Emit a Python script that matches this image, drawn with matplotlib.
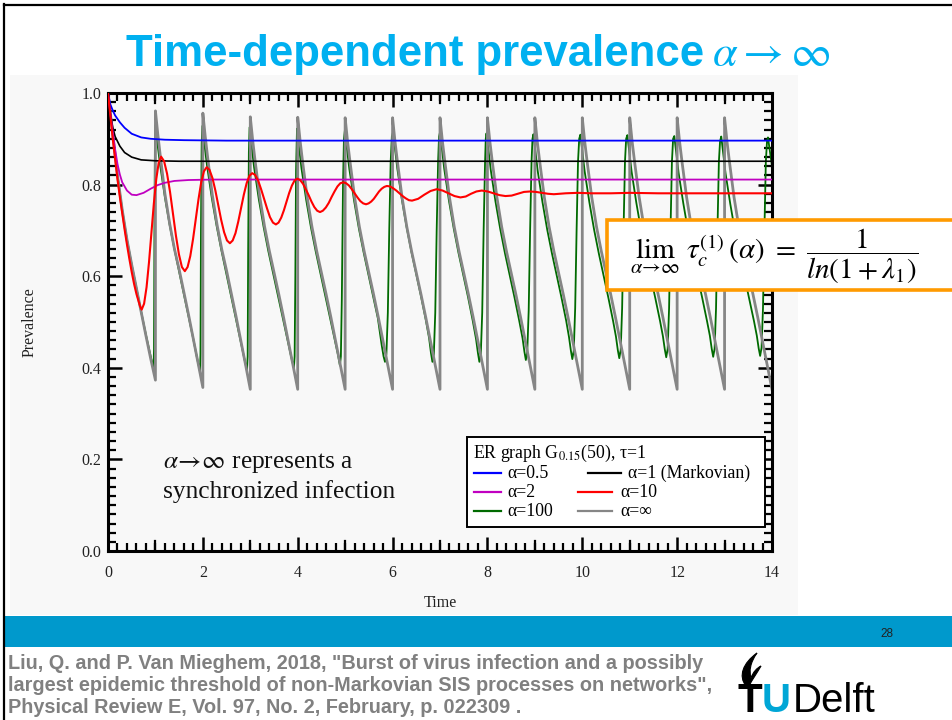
import matplotlib
matplotlib.use("Agg")
import matplotlib.pyplot as plt
from matplotlib.patches import Rectangle, PathPatch
from matplotlib.lines import Line2D
from matplotlib.path import Path
from matplotlib.ticker import MultipleLocator, FuncFormatter

plt.rcParams['mathtext.fontset'] = 'stix'

# ---------------------------------------------------------------- data
t_blue = [0, 0.05, 0.1, 0.15, 0.25, 0.35, 0.5, 0.7, 0.9, 1.2, 1.6, 2.5, 14]
y_blue = [1.0, 0.975, 0.962, 0.951, 0.936, 0.924, 0.911, 0.903, 0.900, 0.898, 0.897, 0.896, 0.896]

t_black = [0, 0.05, 0.1, 0.15, 0.25, 0.35, 0.5, 0.7, 1.0, 1.5, 14]
y_black = [1.0, 0.955, 0.925, 0.905, 0.884, 0.870, 0.860, 0.854, 0.852, 0.851, 0.851]

t_magenta = [0, 0.05, 0.1, 0.15, 0.2, 0.25, 0.3, 0.4, 0.5, 0.6, 0.75, 0.9, 1.05, 1.2, 1.4, 1.7, 2.2, 14]
y_magenta = [1.0, 0.955, 0.915, 0.877, 0.845, 0.822, 0.805, 0.787, 0.778, 0.777, 0.782, 0.791, 0.799,
             0.804, 0.808, 0.810, 0.811, 0.811]

t_red = [0, 0.05, 0.1, 0.15, 0.2, 0.25, 0.3, 0.35, 0.4, 0.45, 0.5, 0.55, 0.6, 0.65, 0.68, 0.71,
         0.761, 0.813, 0.864, 0.915, 0.966, 1.018, 1.069, 1.12,
         1.183, 1.245, 1.308, 1.37, 1.433, 1.495, 1.558, 1.62,
         1.678, 1.735, 1.793, 1.85, 1.908, 1.965, 2.023, 2.08,
         2.141, 2.203, 2.264, 2.325, 2.386, 2.448, 2.509, 2.57,
         2.629, 2.688, 2.746, 2.805, 2.864, 2.923, 2.981, 3.04,
         3.103, 3.165, 3.228, 3.29, 3.353, 3.415, 3.478, 3.54,
         3.596, 3.653, 3.709, 3.765, 3.821, 3.878, 3.934, 3.99,
         4.05, 4.11, 4.17, 4.23, 4.29, 4.35, 4.41, 4.47,
         4.53, 4.593, 4.654, 4.715, 4.776, 4.838, 4.899, 4.96,
         5.02, 5.08, 5.14, 5.2, 5.26, 5.32, 5.38, 5.44,
         5.495, 5.55, 5.605, 5.66, 5.715, 5.77, 5.825, 5.88,
         5.946, 6.013, 6.079, 6.145, 6.211, 6.278, 6.344, 6.41,
         6.54, 6.67, 6.8, 6.93, 7.055, 7.18, 7.305, 7.43,
         7.543, 7.655, 7.768, 7.88, 8.005, 8.13, 8.255, 8.38,
         8.51, 8.64, 8.77, 8.9, 9.025, 9.15, 9.275, 9.4,
         9.65, 9.9, 10.2, 10.6, 11.0, 11.6, 12.3, 13.0, 14.0]
y_red = [1.0, 0.95, 0.90, 0.855, 0.812, 0.773, 0.737, 0.702, 0.669, 0.638, 0.609, 0.583, 0.561, 0.543, 0.533, 0.527,
         0.540, 0.576, 0.630, 0.694, 0.758, 0.812, 0.848, 0.861,
         0.851, 0.824, 0.784, 0.736, 0.688, 0.648, 0.620, 0.611,
         0.620, 0.644, 0.681, 0.725, 0.768, 0.805, 0.829, 0.838,
         0.832, 0.814, 0.787, 0.755, 0.723, 0.696, 0.678, 0.672,
         0.678, 0.694, 0.719, 0.749, 0.778, 0.803, 0.819, 0.825,
         0.821, 0.809, 0.790, 0.769, 0.748, 0.729, 0.717, 0.713,
         0.717, 0.728, 0.744, 0.763, 0.782, 0.798, 0.809, 0.813,
         0.810, 0.802, 0.790, 0.777, 0.763, 0.751, 0.743, 0.740,
         0.743, 0.750, 0.760, 0.773, 0.785, 0.796, 0.803, 0.805,
         0.803, 0.798, 0.790, 0.781, 0.772, 0.764, 0.759, 0.757,
         0.759, 0.763, 0.769, 0.777, 0.785, 0.791, 0.795, 0.797,
         0.796, 0.792, 0.787, 0.781, 0.775, 0.770, 0.766, 0.765,
         0.769, 0.778, 0.786, 0.790, 0.787, 0.781, 0.775, 0.772,
         0.774, 0.780, 0.785, 0.787, 0.785, 0.781, 0.777, 0.775,
         0.776, 0.780, 0.784, 0.785, 0.784, 0.782, 0.780, 0.779,
         0.781, 0.782, 0.781, 0.781, 0.782, 0.781, 0.781, 0.781, 0.781]

t_green = [
    0.00, 0.10, 0.20, 0.30, 0.40, 0.50, 0.60, 0.70, 0.80, 0.90, 0.96, 0.97, 0.98, 0.99,
    1.00, 1.03, 1.10, 1.20, 1.30, 1.40, 1.50, 1.60, 1.70, 1.80, 1.88, 1.94, 1.95, 1.96, 1.975,
    1.99, 2.02, 2.09, 2.19, 2.29, 2.39, 2.49, 2.59, 2.69, 2.79, 2.87, 2.93, 2.945, 2.955, 2.97,
    2.985, 3.015, 3.08, 3.18, 3.28, 3.38, 3.48, 3.58, 3.68, 3.78, 3.86, 3.92, 3.935, 3.95, 3.965,
    3.985, 4.015, 4.08, 4.18, 4.28, 4.38, 4.48, 4.58, 4.68, 4.78, 4.85, 4.89, 4.91, 4.93, 4.955, 4.975,
    4.995, 5.025, 5.09, 5.19, 5.29, 5.39, 5.49, 5.59, 5.69, 5.77, 5.81, 5.84, 5.87, 5.90, 5.93, 5.96, 5.985,
    6.01, 6.04, 6.10, 6.20, 6.30, 6.40, 6.50, 6.60, 6.70, 6.77, 6.81, 6.84, 6.87, 6.90, 6.93, 6.96, 6.98,
    7.00, 7.03, 7.09, 7.19, 7.29, 7.39, 7.49, 7.59, 7.69, 7.76, 7.80, 7.83, 7.86, 7.89, 7.92, 7.95, 7.965,
    7.98, 8.01, 8.07, 8.17, 8.27, 8.37, 8.47, 8.57, 8.67, 8.74, 8.78, 8.81, 8.84, 8.87, 8.90, 8.93, 8.95,
    8.97, 9.00, 9.06, 9.16, 9.26, 9.36, 9.46, 9.56, 9.66, 9.72, 9.76, 9.79, 9.82, 9.85, 9.88, 9.91, 9.935,
    9.96, 9.99, 10.05, 10.15, 10.25, 10.35, 10.45, 10.55, 10.65, 10.71, 10.75, 10.78, 10.81, 10.84, 10.87, 10.90, 10.925,
    10.95, 10.98, 11.04, 11.14, 11.24, 11.34, 11.44, 11.54, 11.64, 11.70, 11.74, 11.77, 11.80, 11.83, 11.86, 11.89, 11.915,
    11.94, 11.97, 12.03, 12.13, 12.23, 12.33, 12.43, 12.53, 12.63, 12.69, 12.73, 12.76, 12.79, 12.82, 12.85, 12.88, 12.905,
    12.93, 12.96, 13.02, 13.12, 13.22, 13.32, 13.42, 13.52, 13.62, 13.68, 13.72, 13.75, 13.78, 13.81, 13.84, 13.87, 13.895,
    13.915, 13.95, 14.0]
y_green = [
    1.000, 0.910, 0.820, 0.745, 0.680, 0.625, 0.573, 0.522, 0.472, 0.425, 0.397, 0.440, 0.720, 0.900,
    0.930, 0.900, 0.842, 0.772, 0.712, 0.659, 0.610, 0.561, 0.512, 0.462, 0.420, 0.392, 0.430, 0.700, 0.890,
    0.928, 0.898, 0.840, 0.770, 0.710, 0.657, 0.608, 0.559, 0.510, 0.461, 0.422, 0.394, 0.425, 0.650, 0.870,
    0.925, 0.895, 0.838, 0.768, 0.708, 0.655, 0.607, 0.558, 0.510, 0.462, 0.425, 0.400, 0.425, 0.600, 0.830,
    0.922, 0.892, 0.835, 0.766, 0.706, 0.654, 0.606, 0.558, 0.510, 0.463, 0.428, 0.405, 0.425, 0.550, 0.800, 0.900,
    0.919, 0.889, 0.833, 0.764, 0.704, 0.652, 0.604, 0.556, 0.508, 0.450, 0.425, 0.413, 0.430, 0.520, 0.700, 0.850, 0.905,
    0.915, 0.888, 0.835, 0.765, 0.705, 0.652, 0.604, 0.556, 0.505, 0.465, 0.432, 0.413, 0.430, 0.520, 0.700, 0.850, 0.905,
    0.914, 0.887, 0.834, 0.764, 0.704, 0.651, 0.603, 0.555, 0.503, 0.463, 0.432, 0.413, 0.430, 0.520, 0.700, 0.850, 0.900,
    0.912, 0.885, 0.832, 0.763, 0.703, 0.650, 0.602, 0.554, 0.503, 0.465, 0.435, 0.417, 0.435, 0.525, 0.700, 0.850, 0.900,
    0.910, 0.883, 0.830, 0.762, 0.702, 0.650, 0.602, 0.554, 0.503, 0.467, 0.437, 0.419, 0.437, 0.530, 0.700, 0.850, 0.900,
    0.909, 0.882, 0.829, 0.761, 0.701, 0.649, 0.601, 0.553, 0.502, 0.468, 0.438, 0.421, 0.439, 0.530, 0.700, 0.850, 0.900,
    0.908, 0.881, 0.828, 0.760, 0.700, 0.648, 0.600, 0.552, 0.502, 0.469, 0.440, 0.423, 0.441, 0.530, 0.700, 0.850, 0.900,
    0.906, 0.879, 0.826, 0.759, 0.699, 0.648, 0.600, 0.552, 0.502, 0.470, 0.441, 0.424, 0.442, 0.530, 0.700, 0.850, 0.895,
    0.905, 0.878, 0.825, 0.758, 0.698, 0.647, 0.599, 0.551, 0.502, 0.470, 0.442, 0.426, 0.444, 0.530, 0.700, 0.850, 0.895,
    0.903, 0.877, 0.840]

# alpha -> infinity: synchronized saw-tooth, one row per unit period
gray_offsets = [0.0, 0.05, 0.1, 0.2, 0.3, 0.4, 0.5, 0.6, 0.7, 0.8, 0.9, 1.0]
gray_cycles = [
    [1.000, 0.955, 0.910, 0.820, 0.745, 0.680, 0.625, 0.573, 0.522, 0.470, 0.420, 0.373],
    [0.961, 0.910, 0.865, 0.780, 0.715, 0.660, 0.615, 0.565, 0.515, 0.463, 0.410, 0.357],
    [0.956, 0.905, 0.860, 0.777, 0.712, 0.658, 0.612, 0.562, 0.512, 0.460, 0.407, 0.353],
    [0.948, 0.897, 0.853, 0.773, 0.709, 0.656, 0.609, 0.561, 0.511, 0.459, 0.406, 0.353],
    [0.947, 0.896, 0.852, 0.772, 0.708, 0.655, 0.608, 0.560, 0.510, 0.458, 0.406, 0.353],
    [0.946, 0.895, 0.852, 0.772, 0.708, 0.655, 0.608, 0.560, 0.510, 0.458, 0.406, 0.353],
    [0.946, 0.895, 0.852, 0.772, 0.708, 0.655, 0.608, 0.560, 0.510, 0.458, 0.406, 0.353],
    [0.946, 0.895, 0.852, 0.772, 0.708, 0.655, 0.608, 0.560, 0.510, 0.458, 0.406, 0.353],
    [0.946, 0.895, 0.852, 0.772, 0.708, 0.655, 0.608, 0.560, 0.510, 0.458, 0.406, 0.353],
    [0.946, 0.895, 0.852, 0.772, 0.708, 0.655, 0.608, 0.560, 0.510, 0.458, 0.406, 0.353],
    [0.946, 0.895, 0.852, 0.772, 0.708, 0.655, 0.608, 0.560, 0.510, 0.458, 0.406, 0.353],
    [0.946, 0.895, 0.852, 0.772, 0.708, 0.655, 0.608, 0.560, 0.510, 0.458, 0.406, 0.353],
    [0.946, 0.895, 0.852, 0.772, 0.708, 0.655, 0.608, 0.560, 0.510, 0.458, 0.406, 0.353],
    [0.946, 0.895, 0.852, 0.772, 0.708, 0.655, 0.608, 0.560, 0.510, 0.458, 0.406, 0.353],
]

series_labels = ['α=0.5', 'α=1 (Markovian)', 'α=2', 'α=10', 'α=100', 'α=∞']
series_colors = ['#0000ff', '#000000', '#c000c0', '#ff0000', '#006a00', '#868686']

x_ticks = [0, 2, 4, 6, 8, 10, 12, 14]
y_ticks = [0.0, 0.2, 0.4, 0.6, 0.8, 1.0]

title_text = 'Time-dependent prevalence'
citation_lines = [
    'Liu, Q. and P. Van Mieghem, 2018, "Burst of virus infection and a possibly',
    'largest epidemic threshold of non-Markovian SIS processes on networks",',
    'Physical Review E, Vol. 97, No. 2, February, p. 022309 .',
]

# ---------------------------------------------------------------- layout helpers
W, H = 952, 720


def fx(x):
    return x / W


def fy(y):
    return 1 - y / H


SERIF = ['Liberation Serif', 'DejaVu Serif']
SANS = ['Liberation Sans', 'DejaVu Sans']

fig = plt.figure(figsize=(W / 100, H / 100), dpi=100)
fig.patch.set_facecolor('white')

# slide frame and panel
fig.add_artist(Line2D([fx(4), fx(4)], [fy(4), fy(720)], transform=fig.transFigure,
                      color='black', lw=1.6, zorder=-4))
fig.add_artist(Line2D([fx(4), fx(952)], [fy(5), fy(5)], transform=fig.transFigure,
                      color='black', lw=1.6, zorder=-4))
fig.add_artist(Rectangle((fx(10), fy(615)), fx(798) - fx(10), fy(75) - fy(615),
                         transform=fig.transFigure, facecolor='#f8f8f8',
                         edgecolor='none', zorder=-5))
fig.add_artist(Rectangle((fx(5), fy(647)), fx(952) - fx(5), fy(616) - fy(647),
                         transform=fig.transFigure, facecolor='#0099cc',
                         edgecolor='none', zorder=-5))

# ---------------------------------------------------------------- axes
ax = fig.add_axes([fx(108), fy(551), fx(772) - fx(108), fy(93) - fy(551)])
ax.set_facecolor('none')

ax.plot(t_blue, y_blue, color=series_colors[0], lw=1.3, zorder=3)
ax.plot(t_black, y_black, color=series_colors[1], lw=1.2, zorder=3)
ax.plot(t_magenta, y_magenta, color=series_colors[2], lw=1.3, zorder=3)
ax.plot(t_green, y_green, color=series_colors[4], lw=1.3, zorder=2)

gray_t, gray_y = [], []
for k, row in enumerate(gray_cycles):
    for off, val in zip(gray_offsets, row):
        gray_t.append(k + off)
        gray_y.append(val)
ax.plot(gray_t, gray_y, color=series_colors[5], lw=2.0, zorder=2.5)
ax.plot(t_red, y_red, color=series_colors[3], lw=1.5, zorder=4)

ax.set_xlim(0, 14)
ax.set_ylim(0, 1.0)
ax.set_xticks(x_ticks)
ax.set_yticks(y_ticks)
ax.xaxis.set_minor_locator(MultipleLocator(0.2))
ax.yaxis.set_minor_locator(MultipleLocator(0.02))
ax.xaxis.set_major_formatter(FuncFormatter(lambda v, p: '%d' % v))
ax.yaxis.set_major_formatter(FuncFormatter(lambda v, p: '%.1f' % v))

# unlabelled integer ticks between the labelled ones
for v in range(1, 14, 2):
    ax.axvline(v, ymin=0, ymax=10 / 458, color='black', lw=1.6, zorder=5)
    ax.axvline(v, ymin=1 - 10 / 458, ymax=1, color='black', lw=1.6, zorder=5)

for s in ax.spines.values():
    s.set_linewidth(2.2)
ax.tick_params(which='major', direction='in', top=True, right=True, length=10, width=1.8,
               labelsize=11.5, colors='black', labelcolor='#222222')
ax.tick_params(which='minor', direction='in', top=True, right=True, length=6, width=1.6)
ax.tick_params(axis='x', which='major', pad=10)
ax.tick_params(axis='y', which='major', pad=5)
for lab in ax.get_xticklabels() + ax.get_yticklabels():
    lab.set_fontfamily(SERIF)

ax.set_xlabel('Time', family=SERIF, fontsize=11.5, color='#222222')
ax.xaxis.set_label_coords(0.5, (551 - 603) / 458)
ax.xaxis.label.set_va('center')
ax.set_ylabel('Prevalence', family=SERIF, fontsize=11.5, color='#222222')
ax.yaxis.set_label_coords((30 - 108) / 664, 0.5)
ax.yaxis.label.set_va('center')

# annotation inside the plot
fig.text(fx(163), fy(468), r'$\alpha\!\rightarrow\!\infty$ represents a', family=SERIF,
         fontsize=18.3, color='#111111', va='baseline')
fig.text(fx(163), fy(498), 'synchronized infection', family=SERIF,
         fontsize=18.3, color='#111111', va='baseline')

# ---------------------------------------------------------------- legend box
fig.add_artist(Rectangle((fx(467), fy(527)), fx(765) - fx(467), fy(437) - fy(527),
                         transform=fig.transFigure, facecolor='white',
                         edgecolor='black', lw=1.4, zorder=6))
fig.text(fx(473), fy(458), r'ER graph G$_{\mathrm{0.15}}$(50), τ=1', family=SERIF,
         fontsize=12.8, va='baseline', zorder=7)
legend_rows = [
    (478, [(474, 501, 507, 0), (588, 621, 628, 1)]),
    (497, [(474, 501, 507, 2), (578, 612, 620, 3)]),
    (516, [(474, 501, 507, 4), (578, 612, 620, 5)]),
]
for yline, items in legend_rows:
    for x0, x1, xt, idx in items:
        fig.add_artist(Line2D([fx(x0), fx(x1)], [fy(yline - 5), fy(yline - 5)],
                              transform=fig.transFigure, color=series_colors[idx],
                              lw=1.6, zorder=7))
        fig.text(fx(xt), fy(yline), series_labels[idx], family=SERIF, fontsize=12.8,
                 va='baseline', zorder=7)

# ---------------------------------------------------------------- formula box
fig.add_artist(Rectangle((fx(607), fy(290)), fx(960) - fx(607), fy(220) - fy(290),
                         transform=fig.transFigure, facecolor='white',
                         edgecolor='#ff9a00', lw=2.6, zorder=8))
fig.text(fx(774), fy(256),
         r'$\lim_{\alpha\rightarrow\infty}\ \tau_c^{(1)}(\alpha)\ =\ \dfrac{1}{ln(1+\lambda_1)}$',
         fontsize=21, ha='center', va='center', zorder=9)

# ---------------------------------------------------------------- title and footer
fig.text(fx(704), fy(66), title_text, family=SANS, weight='bold', fontsize=31.5,
         color='#00b0f0', ha='right', va='baseline')
fig.text(fx(712), fy(66), r'$\alpha\rightarrow\infty$', fontsize=32,
         color='#00b0f0', ha='left', va='baseline')

fig.text(fx(880), fy(637), '28', family=SANS, fontsize=8.5, color='#222222', va='baseline')

for i, line in enumerate(citation_lines):
    fig.text(fx(8), fy(669 + 22 * i), line, family=SANS, weight='bold', fontsize=14.3,
             color='#808080', va='baseline')

# TU Delft logo
fig.text(fx(737), fy(712), 'T', family=SANS, weight='bold',
         fontsize=29, color='black', va='baseline')
fig.text(fx(762), fy(712), 'U', family=SANS, weight='bold',
         fontsize=29, color='#00a6d6', va='baseline')
fig.text(fx(793), fy(712), 'Delft', family=SANS,
         fontsize=29, color='black', va='baseline')
flame_pts = [(746, 686), (738, 676), (743, 663), (757, 653),
             (750, 663), (749, 671), (751, 678),
             (753, 672), (757, 668), (761, 666),
             (757, 673), (752, 680), (749, 686)]
flame_codes = [Path.MOVETO] + [Path.CURVE4] * 12
flame = Path([(fx(x), fy(y)) for x, y in flame_pts], flame_codes)
fig.add_artist(PathPatch(flame, transform=fig.transFigure, facecolor='black',
                         edgecolor='black', lw=0.8))

fig.savefig('out.png', dpi=100)
